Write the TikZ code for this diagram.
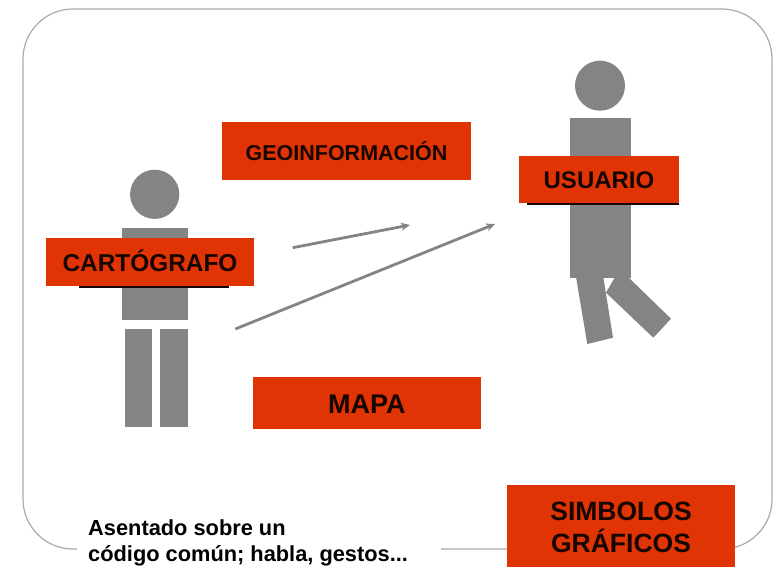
\documentclass[tikz,border=0pt]{standalone}
\usepackage{fontspec}
\setmainfont{Liberation Sans}
\usetikzlibrary{arrows.meta}
\definecolor{redbox}{HTML}{E03404}
\definecolor{figgray}{HTML}{848484}
\definecolor{framegray}{HTML}{ABABAB}
\tikzset{
  x=1pt,y=-1pt,
  redlabel/.style={inner sep=0pt,text=black!90!redbox,align=center},
  body/.style={fill=figgray,draw=none},
  flow/.style={draw=figgray,line width=2.8pt,-{Stealth[length=9pt,width=8pt]}},
  shadowline/.style={draw=black!90!redbox,line width=1.8pt},
}
\newcommand{\labelbox}[8]{% name, x0,y0,x1,y1, size, dy, text
  \path[fill=redbox] (#2,#3) rectangle (#4,#5);
  \coordinate (#1-c) at ({(#2+#4)/2},{(#3+#5)/2+#7});
  \node[redlabel,font={\fontsize{#6}{32}\selectfont\bfseries}] (#1) at (#1-c) {#8};
}
\begin{document}
\begin{tikzpicture}
\useasboundingbox (0,0) rectangle (780,567);
\fill[white] (0,0) rectangle (780,567);
% frame
\draw[framegray,line width=1.2pt,rounded corners=50pt] (23,9) rectangle (772,549);
\fill[white] (77,535) rectangle (441,567);
% cartografo figure
\fill[body] (154.7,194.3) circle[radius=24.6];
\fill[body] (122,228) rectangle (187.7,320);
\fill[body] (124.7,329.3) rectangle (152,427.3);
\fill[body] (160.3,329.3) rectangle (187.7,427.3);
\draw[shadowline] (78.7,287.2) -- (228.7,287.2);
\labelbox{cart}{46}{238}{254}{285.7}{24.4}{-1.5}{CARTÓGRAFO}
% usuario figure
\fill[body] (600,85.7) circle[radius=25];
\fill[body] (569.7,118.3) rectangle (631,278);
\fill[body] (576,277) -- (603.3,277) -- (613,337.7) -- (587.3,344) -- cycle;
\fill[body] (606,292.7) -- (653.3,337.7) -- (671,318.7) -- (628,277) -- (615,277) -- cycle;
\draw[shadowline] (527,204.2) -- (678.7,204.2);
\labelbox{usu}{519.3}{155.7}{678.7}{203}{24}{0.5}{USUARIO}
% other labels
\labelbox{geo}{222}{122.3}{471}{180.3}{21.5}{-0.5}{GEOINFORMACIÓN}
\labelbox{mapa}{252.7}{377.3}{481}{429}{27}{1}{MAPA}
\labelbox{simb}{507}{485}{735}{567}{26.5}{1}{SIMBOLOS\\GRÁFICOS}
% connectors
\coordinate (a1s) at (292.7,247.7);
\coordinate (a1e) at (410,225);
\coordinate (a2s) at (235.3,329);
\coordinate (a2e) at (495,224);
\draw[flow] (a1s) -- (a1e);
\draw[flow] (a2s) -- (a2e);
% note
\node[anchor=north west,inner sep=0pt,align=left,text=black,font={\fontsize{21.8}{26}\selectfont\bfseries}] (nota) at (88,519.5)
  {Asentado sobre un\\ código común; habla, gestos...};
\end{tikzpicture}
\end{document}
